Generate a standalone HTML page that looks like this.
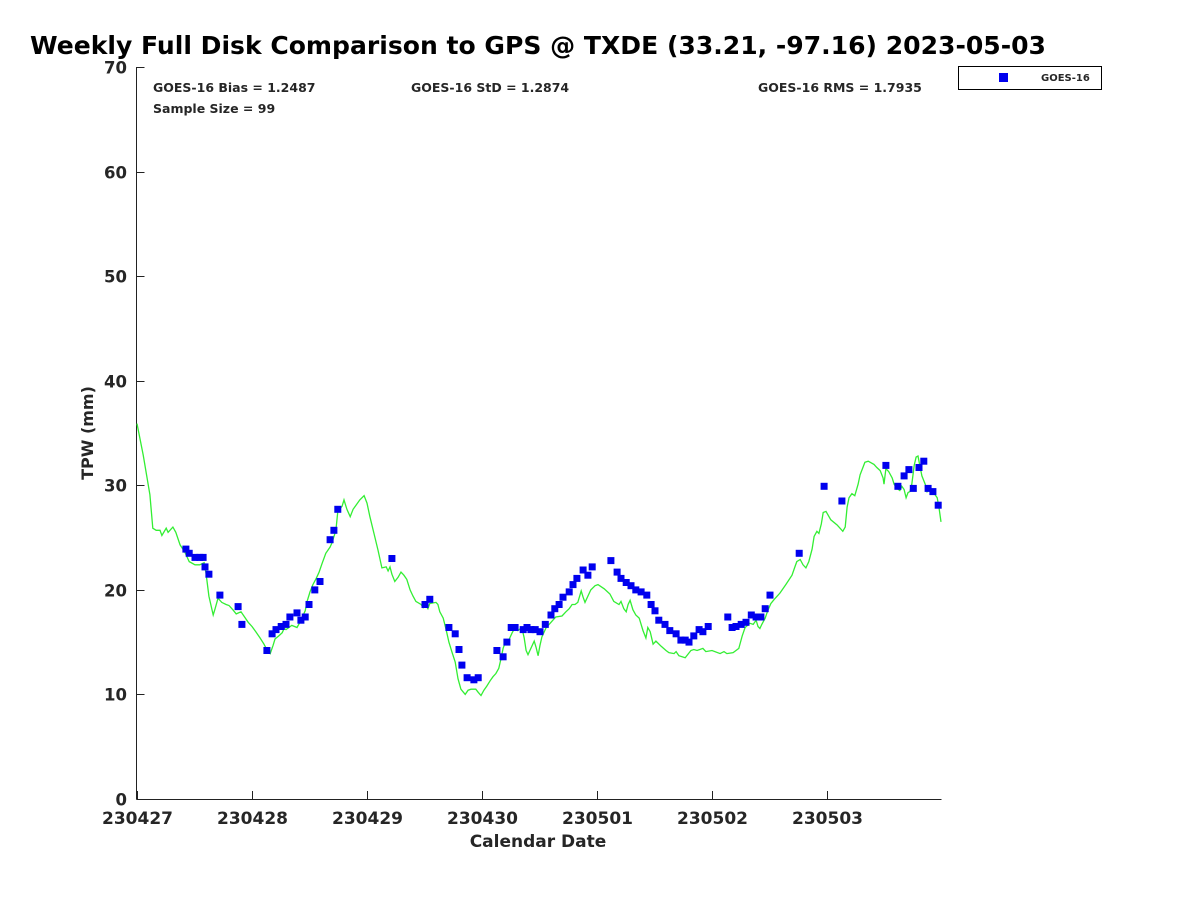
<!DOCTYPE html>
<html><head><meta charset="utf-8"><style>
body{margin:0;background:#fff;}
svg text{font-family:"DejaVu Sans","Liberation Sans",sans-serif;font-weight:bold;fill:#262626;}
</style></head><body>
<svg width="1200" height="900" viewBox="0 0 1200 900">
<rect width="1200" height="900" fill="#fff"/>
<text x="30" y="54" font-size="24.5" style="fill:#000" textLength="1016" lengthAdjust="spacingAndGlyphs">Weekly Full Disk Comparison to GPS @ TXDE (33.21, -97.16) 2023-05-03</text>
<text x="153" y="92" font-size="12.5">GOES-16 Bias = 1.2487</text>
<text x="411" y="92" font-size="12.5">GOES-16 StD = 1.2874</text>
<text x="758" y="92" font-size="12.5">GOES-16 RMS = 1.7935</text>
<text x="153" y="113" font-size="12.5">Sample Size = 99</text>
<g>
<rect x="958.5" y="66.5" width="143" height="23" fill="#fff" stroke="#000"/>
<rect x="999" y="73" width="9" height="9" fill="#0000ee"/>
<text x="1041" y="81" font-size="10">GOES-16</text>
</g>
<g id="axes"></g>
<polyline id="gps-line" fill="none" stroke="#33ee33" stroke-width="1.3"/>
<g id="pts"></g>
<text x="538" y="847" font-size="17" text-anchor="middle">Calendar Date</text>
<text transform="translate(93,433) rotate(-90)" font-size="16" text-anchor="middle">TPW (mm)</text>
</svg>
<script>
const xTickLabels=["230427","230428","230429","230430","230501","230502","230503"];
const yTicks=[0,10,20,30,40,50,60,70];
const goesHours=[10.2,10.9,12.1,13.1,13.8,14.2,15.0,17.3,21.1,21.9,27.1,28.2,29.0,30.1,31.1,31.9,33.4,34.2,35.1,35.9,37.1,38.2,40.3,41.1,41.9,53.2,60.1,61.1,65.1,66.4,67.2,67.8,68.9,70.3,71.2,75.1,76.4,77.2,78.1,78.9,80.6,81.4,82.2,83.1,84.1,85.2,86.4,87.2,88.1,88.9,90.2,91.0,91.8,93.1,94.1,95.0,98.9,100.2,101.0,102.1,103.1,104.1,105.2,106.4,107.3,108.1,108.9,110.2,111.2,112.5,113.5,114.4,115.2,116.2,117.3,118.1,119.2,123.3,124.2,125.0,126.1,127.1,128.2,129.2,130.2,131.1,132.1,138.2,143.4,147.1,156.3,158.8,160.1,161.1,162.0,163.2,164.2,165.1,166.1,167.2];
const goesTpw=[23.9,23.5,23.1,23.1,23.1,22.2,21.5,19.5,18.4,16.7,14.2,15.8,16.2,16.5,16.7,17.4,17.8,17.1,17.4,18.6,20.0,20.8,24.8,25.7,27.7,23.0,18.6,19.1,16.4,15.8,14.3,12.8,11.6,11.4,11.6,14.2,13.6,15.0,16.4,16.4,16.2,16.4,16.2,16.2,16.0,16.7,17.6,18.2,18.6,19.3,19.8,20.5,21.1,21.9,21.4,22.2,22.8,21.7,21.1,20.7,20.4,20.0,19.8,19.5,18.6,18.0,17.1,16.7,16.1,15.8,15.2,15.2,15.0,15.6,16.2,16.0,16.5,17.4,16.4,16.5,16.7,16.9,17.6,17.4,17.4,18.2,19.5,23.5,29.9,28.5,31.9,29.9,30.9,31.5,29.7,31.7,32.3,29.7,29.4,28.1];
const gpsHours=[0,1.3,2.7,3.3,4.0,4.8,5.2,6.1,6.5,7.5,8.1,9.0,10.0,10.9,12.1,13.1,14.0,14.4,15.0,15.4,15.9,16.3,16.9,17.7,18.6,19.2,20.0,20.7,21.7,22.3,23.2,24.0,24.8,25.7,26.5,27.3,27.8,28.4,28.8,29.6,30.3,30.7,31.1,31.7,32.3,33.4,34.0,34.4,35.1,35.5,36.1,36.7,37.4,38.0,38.6,39.4,40.3,40.7,41.5,41.9,42.8,43.2,43.8,44.5,45.1,45.7,46.5,47.4,48.0,48.6,49.5,50.3,51.1,52.0,52.4,52.8,53.2,53.8,54.5,55.1,55.7,56.3,57.0,57.6,58.2,59.3,59.7,60.1,60.7,61.1,62.4,62.8,63.2,63.9,64.5,65.1,65.7,66.4,67.0,67.6,68.5,69.1,69.7,70.7,71.2,71.8,72.4,73.0,73.7,74.3,74.9,75.5,76.0,76.4,77.0,77.6,78.3,78.9,79.5,80.3,80.8,81.2,81.6,82.0,82.9,83.3,83.7,84.1,84.5,85.4,86.0,86.6,87.4,88.7,89.5,90.2,90.8,91.4,92.0,92.7,93.1,93.5,94.1,94.7,95.6,96.2,97.5,98.7,99.5,100.6,101.0,101.6,102.1,102.5,102.9,103.5,104.1,104.8,105.6,106.2,106.6,107.1,107.7,108.3,109.4,110.4,111.0,112.1,112.5,113.1,114.4,115.6,116.2,116.9,118.1,118.7,120.0,121.7,122.5,123.1,124.4,125.0,125.6,126.3,126.9,127.9,128.6,129.2,129.6,130.0,130.4,131.1,131.7,132.3,133.0,134.2,135.4,136.7,137.3,137.7,138.4,139.0,139.6,140.2,140.9,141.3,141.9,142.3,142.8,143.2,143.8,144.8,146.1,147.3,147.8,148.2,148.6,149.2,149.8,150.5,150.9,151.5,151.9,152.6,153.8,154.4,155.1,155.7,155.9,156.3,156.9,157.6,158.0,158.6,159.2,159.6,160.1,160.5,160.9,161.3,161.7,162.2,162.6,163.0,163.4,163.8,164.5,164.9,165.3,166.1,167.0,167.4,167.8];
const gpsTpw=[35.9,32.9,29.1,25.9,25.7,25.7,25.2,25.9,25.5,26.0,25.5,24.3,23.6,22.7,22.4,22.4,22.6,21.6,19.4,18.6,17.6,18.2,19.2,18.8,18.6,18.5,18.1,17.7,17.9,17.5,16.9,16.5,16.0,15.4,14.8,14.1,13.9,14.7,15.3,15.6,15.9,16.3,16.2,16.4,16.6,16.4,16.9,17.3,18.0,18.9,19.8,20.5,21.1,21.7,22.5,23.5,24.1,24.5,25.7,27.5,28.0,28.6,27.7,27.0,27.7,28.1,28.6,29.0,28.3,27.0,25.3,23.8,22.1,22.2,21.8,22.2,21.5,20.8,21.2,21.7,21.4,21.0,20.0,19.4,18.9,18.6,18.3,18.6,18.2,18.7,18.8,18.6,17.9,17.3,16.2,15.0,14.1,13.1,11.5,10.5,10.0,10.4,10.5,10.5,10.2,9.9,10.4,10.8,11.3,11.7,12.0,12.5,13.5,14.4,15.2,15.2,15.9,16.4,16.1,16.4,15.4,14.2,13.8,14.2,15.1,14.5,13.7,14.7,15.5,16.4,16.7,17.0,17.4,17.5,17.9,18.2,18.6,18.6,18.8,19.9,19.3,18.8,19.4,20.0,20.4,20.5,20.1,19.6,18.9,18.6,18.9,18.2,17.9,18.6,19.0,18.1,17.6,17.3,16.1,15.4,16.4,16.0,14.8,15.1,14.6,14.2,14.0,13.9,14.1,13.7,13.5,14.2,14.3,14.2,14.4,14.1,14.2,13.9,14.1,13.9,14.0,14.2,14.4,15.6,16.4,16.8,16.7,17.1,16.5,16.3,16.7,17.3,18.1,18.7,19.1,19.7,20.5,21.4,22.2,22.7,22.9,22.4,22.1,22.7,23.9,25.1,25.6,25.4,26.3,27.4,27.5,26.7,26.2,25.6,26.0,27.9,28.8,29.2,29.0,30.1,31.0,31.7,32.2,32.3,32.0,31.7,31.4,30.7,30.1,31.6,31.3,30.7,30.1,29.7,29.5,29.9,29.6,28.8,29.3,29.4,30.1,31.9,32.7,32.8,31.8,30.9,30.1,29.4,29.7,29.4,28.8,27.8,26.5];

const NS="http://www.w3.org/2000/svg";
const X0=136.5,X1=941.5,Y0=799,Y1=67;
const xs=h=>137+h/168*805;
const ys=v=>Y0-(v/70)*(Y0-Y1);
const axes=document.getElementById('axes');
function mk(tag,attrs,parent){const e=document.createElementNS(NS,tag);for(const k in attrs)e.setAttribute(k,attrs[k]);parent.appendChild(e);return e;}
let l=mk('line',{x1:X0,y1:Y1,x2:X0,y2:Y0+0.5,stroke:'#222','stroke-width':1},axes);


l=mk('line',{x1:X0,y1:Y0+0.5,x2:X1,y2:Y0+0.5,stroke:'#222','stroke-width':1},axes);


yTicks.forEach(v=>{const y=Math.round(ys(v))+0.5;
 const t=mk('line',{x1:X0,y1:y,x2:X0+8,y2:y,stroke:'#222'},axes);
 
 
 const tx=mk('text',{x:127,y:y+6,'font-size':16.5,'text-anchor':'end'},axes);tx.textContent=v;
 
 
});
xTickLabels.forEach((s,i)=>{const x=Math.round(xs(i*24))+0.5;
 const t=mk('line',{x1:x,y1:Y0,x2:x,y2:Y0-8,stroke:'#222'},axes);
 
 
 const tx=mk('text',{x:x,y:824,'font-size':17,'text-anchor':'middle'},axes);tx.textContent=s;
 
 
});
document.getElementById('gps-line').setAttribute('points',gpsHours.map((h,i)=>xs(h).toFixed(1)+','+ys(gpsTpw[i]).toFixed(1)).join(' '));
const pts=document.getElementById('pts');
goesHours.forEach((h,i)=>{const r=mk('rect',{x:(xs(h)-3.5).toFixed(1),y:(ys(goesTpw[i])-3.5).toFixed(1),width:7,height:7,fill:'#0000ee'},pts);
 
 
});
</script>
</body></html>
